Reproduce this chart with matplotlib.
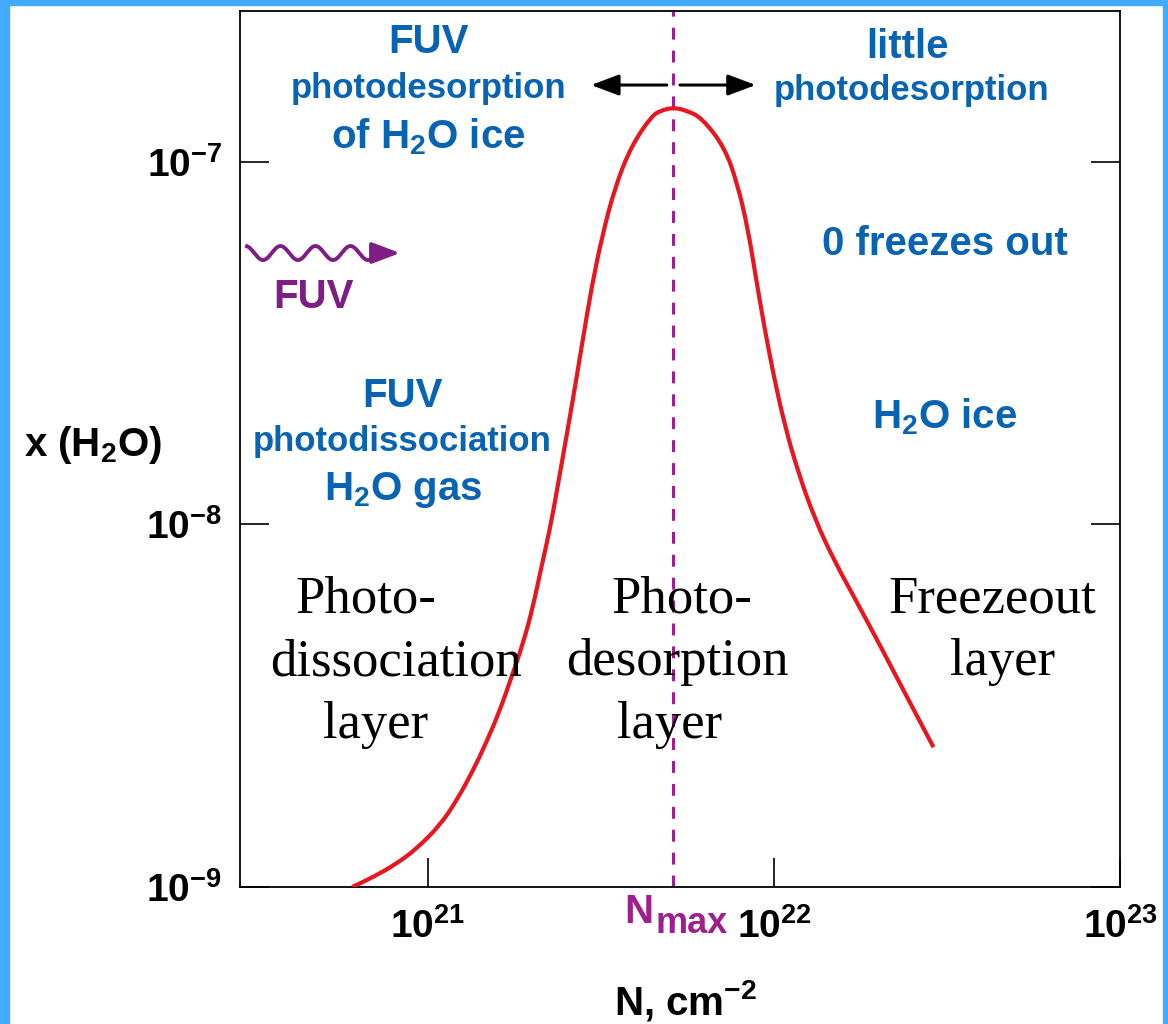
import matplotlib.pyplot as plt
import numpy as np
from matplotlib.patches import Rectangle, PathPatch
from matplotlib.path import Path

plt.rcParams['font.family'] = 'Liberation Sans'
plt.rcParams['font.weight'] = 'bold'
plt.rcParams['axes.labelweight'] = 'bold'
plt.rcParams['mathtext.fontset'] = 'custom'
plt.rcParams['mathtext.rm'] = 'Liberation Sans:bold'
plt.rcParams['mathtext.it'] = 'Liberation Sans:bold'
plt.rcParams['mathtext.bf'] = 'Liberation Sans:bold'

# H2O abundance vs column density
column_density = [6.04e20, 6.97e20, 8.13e20, 9.28e20, 1.082e21, 1.209e21, 1.349e21,
                  1.473e21, 1.610e21, 1.739e21, 1.877e21, 2.005e21, 2.142e21,
                  2.27e21, 2.43e21, 2.61e21, 2.79e21, 2.97e21, 3.18e21, 3.47e21,
                  3.87e21, 4.43e21, 4.72e21, 5.12e21, 5.57e21, 6.17e21, 7.20e21,
                  7.86e21, 8.39e21, 8.87e21, 9.35e21, 9.97e21, 1.075e22, 1.175e22,
                  1.315e22, 1.494e22, 1.74e22, 2.02e22, 2.37e22, 2.89e22]
x_h2o = [1.00e-9, 1.067e-9, 1.161e-9, 1.277e-9, 1.479e-9, 1.73e-9, 2.094e-9,
         2.502e-9, 3.055e-9, 3.77e-9, 4.66e-9, 5.86e-9, 7.87e-9,
         1.01e-8, 1.46e-8, 2.15e-8, 3.16e-8, 4.51e-8, 6.19e-8, 8.53e-8,
         1.107e-7, 1.34e-7, 1.387e-7, 1.413e-7, 1.387e-7, 1.326e-7, 1.098e-7,
         8.62e-8, 6.59e-8, 4.78e-8, 3.56e-8, 2.58e-8, 1.87e-8, 1.39e-8,
         1.03e-8, 7.93e-9, 6.08e-9, 4.66e-9, 3.48e-9, 2.43e-9]
n_max = 5.12e21

xticks = [1e21, 1e22, 1e23]
xtick_labels = [r'$10^{21}$', r'$10^{22}$', r'$10^{23}$']
yticks = [1e-9, 1e-8, 1e-7]
ytick_labels = [r'$10^{-9}$', r'$10^{-8}$', r'$10^{-7}$']

blue = '#0864B2'
purple = '#801C86'
magenta = '#9E1F8E'
red = '#E8161F'

fig = plt.figure(figsize=(11.68, 10.24), dpi=100)
# light blue frame around the slide
for r in [(0, 0, 9/1168, 1), (0, 1 - 5/1024, 1, 5/1024), (1163/1168, 0, 5/1168, 1)]:
    fig.add_artist(Rectangle(r[:2], r[2], r[3], transform=fig.transFigure,
                             color='#41ACFF', zorder=-5))

ax = fig.add_axes([240/1168, 1 - 887/1024, 880/1168, 876/1024])
ax.set_xscale('log')
ax.set_yscale('log')
ax.set_xlim(10**20.4566, 1e23)
ax.set_ylim(1e-9, 10**-6.5837)

# smooth curve: read points used as quadratic bezier controls
# (midpoints taken as geometric means so they sit halfway on the log axes)
pts = np.column_stack([column_density, x_h2o])
mids = np.sqrt(pts[:-1] * pts[1:])
verts = [pts[0], mids[0]]
codes = [Path.MOVETO, Path.LINETO]
for i in range(1, len(pts) - 1):
    verts += [pts[i], mids[i]]
    codes += [Path.CURVE3, Path.CURVE3]
verts.append(pts[-1])
codes.append(Path.LINETO)
ax.add_patch(PathPatch(Path(verts, codes), facecolor='none', edgecolor=red,
                       lw=3, zorder=3, capstyle='butt'))
ax.axvline(n_max, color=magenta, lw=2.2, dashes=(3.9, 3.6), zorder=2)

ax.set_xticks(xticks, labels=xtick_labels)
ax.set_yticks(yticks, labels=ytick_labels)
ax.minorticks_off()
ax.tick_params(direction='in', length=21, width=1.2, right=True, top=False,
               labelsize=28)
ax.tick_params(axis='x', pad=15)
ax.tick_params(axis='y', pad=13)
for s in ax.spines.values():
    s.set_linewidth(1.3)

ax.set_xlabel(r'N, cm$^{-2}$', fontsize=29, va='baseline')
ax.xaxis.set_label_coords(0.506, -0.1453)
ax.set_ylabel(r'x (H$_2$O)', fontsize=29, rotation=0, va='center', ha='center')
ax.yaxis.set_label_coords(-0.167, 0.505)

# N_max marker under the axis
ax.annotate('N', xy=(n_max, 0), xycoords=ax.get_xaxis_transform(),
            xytext=(-14.4, -26), textcoords='offset points', ha='right',
            va='baseline', color=magenta, fontsize=29)
ax.annotate('max', xy=(n_max, 0), xycoords=ax.get_xaxis_transform(),
            xytext=(-13, -33), textcoords='offset points', ha='left',
            va='baseline', color=magenta, fontsize=26)

# blue annotations
blue_texts = [
    ('FUV', 0.214, 0.952, 29), ('photodesorption', 0.214, 0.9007, 25),
    (r'of H$_2$O ice', 0.214, 0.8436, 29),
    ('little', 0.758, 0.946, 29), ('photodesorption', 0.763, 0.898, 25),
    ('0 freezes out', 0.801, 0.7215, 29), (r'H$_2$O ice', 0.801, 0.524, 29),
    ('FUV', 0.185, 0.548, 29), ('photodissociation', 0.184, 0.4977, 25),
    (r'H$_2$O gas', 0.185, 0.4418, 29),
]
for s, x, y, fs in blue_texts:
    ax.text(x, y, s, transform=ax.transAxes, color=blue, fontsize=fs,
            ha='center', va='baseline')

# black arrows at the top
arrow = dict(arrowstyle='-|>,head_length=0.85,head_width=0.32', color='black',
             lw=2.2, mutation_scale=20, shrinkA=0, shrinkB=0)
ax.annotate('', xy=(0.399, 0.9155), xytext=(0.485, 0.9155),
            xycoords='axes fraction', arrowprops=arrow)
ax.annotate('', xy=(0.586, 0.9155), xytext=(0.500, 0.9155),
            xycoords='axes fraction', arrowprops=arrow)

# wavy FUV arrow
px = np.linspace(247, 377, 300)
wx = (px - 240) / 880
wy = 0.7237 - 0.008 * np.cos(2 * np.pi * (px - 263) / 35)
ax.plot(wx, wy, transform=ax.transAxes, color=purple, lw=2.8, clip_on=False)
ax.annotate('', xy=(0.182, 0.7237), xytext=(0.155, 0.7237),
            xycoords='axes fraction',
            arrowprops=dict(arrowstyle='-|>,head_length=0.85,head_width=0.32',
                            color=purple, lw=2.8, mutation_scale=20,
                            shrinkA=0, shrinkB=0))
ax.text(0.0835, 0.661, 'FUV', transform=ax.transAxes, color=purple,
        fontsize=29, ha='center', va='baseline')

# layer names
layer_lines = [
    ('Photo-', 0.1432, 0.3139), ('dissociation', 0.1773, 0.242), ('layer', 0.1545, 0.170),
    ('Photo-', 0.5023, 0.3139), ('desorption', 0.4966, 0.242), ('layer', 0.4886, 0.170),
    ('Freezeout', 0.8545, 0.3139), ('layer', 0.867, 0.242),
]
for s, x, y in layer_lines:
    ax.text(x, y, s, transform=ax.transAxes, family='Liberation Serif',
            fontweight='normal', fontsize=38, ha='center', va='baseline',
            zorder=4)

fig.savefig('out.png', dpi=100)
